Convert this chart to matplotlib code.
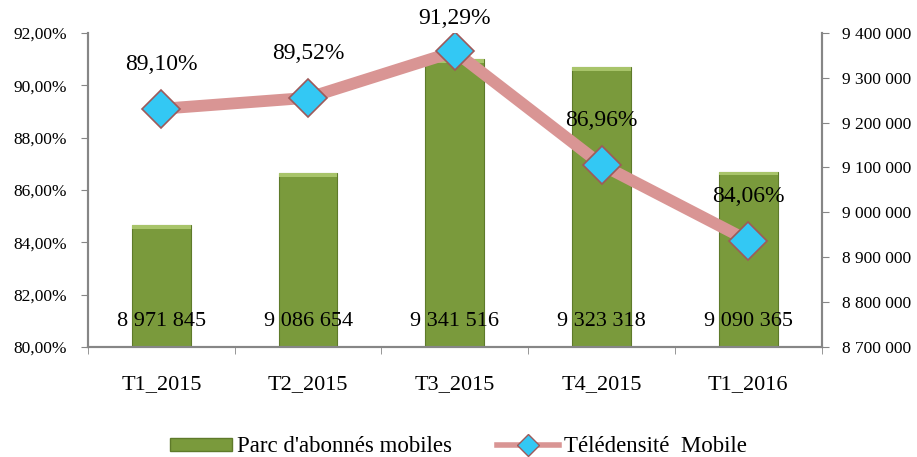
import numpy as np
import matplotlib.pyplot as plt
from matplotlib.ticker import FuncFormatter, MultipleLocator
from matplotlib.lines import Line2D
from matplotlib.patches import Patch

categories = ['T1_2015', 'T2_2015', 'T3_2015', 'T4_2015', 'T1_2016']
abonnes = [8971845, 9086654, 9341516, 9323318, 9090365]
teledensite = [89.10, 89.52, 91.29, 86.96, 84.06]

plt.rcParams['font.family'] = ['Liberation Serif', 'DejaVu Serif']

grey = '#868686'
bar_color = '#7A9A3C'
line_color = '#D99594'
marker_color = '#33C8F4'

fig = plt.figure(figsize=(9.17, 4.57), dpi=100)
ax = fig.add_axes([0.096, 0.241, 0.8, 0.687])
ax2 = ax.twinx()
x = np.arange(len(categories))

# bars on the right-hand axis
bars = ax.bar(x, abonnes, width=0.4, color=bar_color, edgecolor='#5E7A2A', linewidth=0.8, zorder=2)
for b in bars:
    ax.bar(b.get_x() + b.get_width() / 2, 8000, bottom=b.get_height() - 8000,
           width=b.get_width(), color='#A8C46A', linewidth=0, zorder=2.1)
ax.set_ylim(8700000, 9400000)
ax.yaxis.set_major_locator(MultipleLocator(100000))
ax.yaxis.tick_right()
ax.yaxis.set_major_formatter(FuncFormatter(lambda v, p: f'{int(v):,}'.replace(',', ' ')))
ax.set_xlim(-0.5, len(categories) - 0.5)
ax.set_xticks(x)
ax.set_xticklabels(categories, fontsize=16)
ax.set_xticks(np.arange(-0.5, len(categories)), minor=True)
ax.tick_params(axis='x', which='major', length=0, pad=20)
ax.tick_params(axis='x', which='minor', length=5, color=grey)
ax.tick_params(axis='y', length=5, color=grey, labelsize=12.5, pad=10)

for xi, v in zip(x, abonnes):
    ax.text(xi, 0.08, f'{v:,}'.replace(',', ' '), transform=ax.get_xaxis_transform(),
            ha='center', va='center', fontsize=16, zorder=5)

# line on the left-hand axis
ax2.yaxis.tick_left()
ax2.plot(x, teledensite, color=line_color, linewidth=8.5, solid_capstyle='butt', zorder=3)
ax2.plot(x, teledensite, linestyle='none', marker='D', markersize=19,
         markerfacecolor=marker_color, markeredgecolor='#9E5A5A', markeredgewidth=1.2, zorder=4)
ax2.set_ylim(80, 92)
ax2.yaxis.set_major_locator(MultipleLocator(2))
ax2.yaxis.set_major_formatter(FuncFormatter(lambda v, p: f'{v:.2f}%'.replace('.', ',')))
ax2.tick_params(axis='y', length=5, color=grey, labelsize=12.5, pad=10)

label_offsets = [32, 32, 24, 32, 32]
for xi, v, off in zip(x, teledensite, label_offsets):
    ax2.annotate(f'{v:.2f}%'.replace('.', ','), (xi, v), xytext=(0, off), textcoords='offset points',
                 ha='center', va='center', fontsize=17)

for a in (ax, ax2):
    a.spines['top'].set_visible(False)
    for s in ('left', 'right', 'bottom'):
        a.spines[s].set_color(grey)
        a.spines[s].set_linewidth(1.5)

handles = [Patch(facecolor=bar_color, edgecolor='#5E7A2A'),
           Line2D([], [], color=line_color, linewidth=4, marker='D', markersize=11,
                  markerfacecolor=marker_color, markeredgecolor='#9E5A5A')]
fig.legend(handles, ["Parc d'abonnés mobiles", 'Télédensité  Mobile'], loc='center',
           bbox_to_anchor=(0.5, 0.022), ncol=2, frameon=False, fontsize=16.5,
           handlelength=2.7, handleheight=0.5, columnspacing=2.0, handletextpad=0.2)

fig.savefig('out.png', dpi=100)
